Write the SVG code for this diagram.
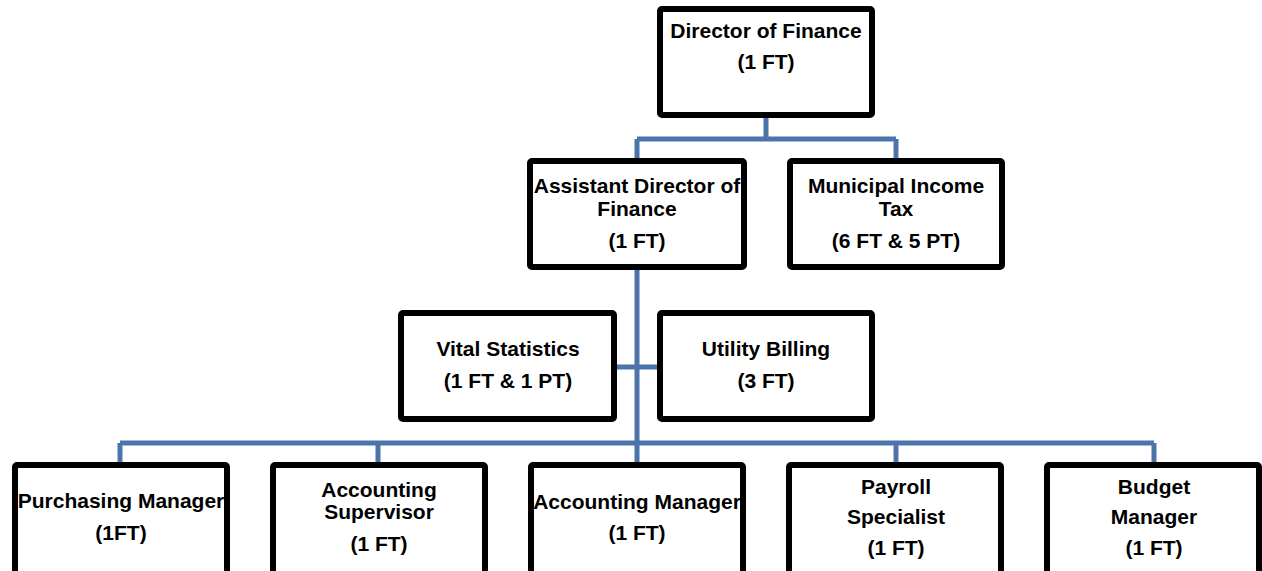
<svg xmlns="http://www.w3.org/2000/svg" width="1262" height="571" viewBox="0 0 1262 571">
<style>
.box{fill:#fff;stroke:#000;stroke-width:6;stroke-linejoin:round}
.ln{fill:none;stroke:#4A74AA;stroke-width:5}
text{font-family:"Liberation Sans",Arial,sans-serif;font-weight:bold;font-size:21px;fill:#000;text-anchor:middle}
</style>
<rect width="1262" height="571" fill="#fff"/>
<g id="connectors">
<path class="ln" d="M766 118V139M637 139H896M637 139V158M896 139V158"/>
<path class="ln" d="M637 270V443M617 367H657"/>
<path class="ln" d="M120 443H1154M120 443V462M378 443V462M637 443V462M896 443V462M1154 443V462"/>
</g>
<g id="director">
<rect class="box" x="660" y="9" width="212" height="106" rx="2"/>
<text x="766" y="38">Director of Finance</text>
<text x="766" y="69">(1 FT)</text>
</g>
<g id="assistant-director">
<rect class="box" x="530" y="161" width="214" height="106" rx="2"/>
<text x="637" y="193">Assistant Director of</text>
<text x="637" y="216">Finance</text>
<text x="637" y="248">(1 FT)</text>
</g>
<g id="municipal-income-tax">
<rect class="box" x="790" y="161" width="212" height="106" rx="2"/>
<text x="896" y="193">Municipal Income</text>
<text x="896" y="216">Tax</text>
<text x="896" y="248">(6 FT &amp; 5 PT)</text>
</g>
<g id="vital-statistics">
<rect class="box" x="401" y="313" width="213" height="106" rx="2"/>
<text x="508" y="356">Vital Statistics</text>
<text x="508" y="388">(1 FT &amp; 1 PT)</text>
</g>
<g id="utility-billing">
<rect class="box" x="660" y="313" width="212" height="106" rx="2"/>
<text x="766" y="356">Utility Billing</text>
<text x="766" y="388">(3 FT)</text>
</g>
<g id="purchasing-manager">
<rect class="box" x="15" y="465" width="212" height="120" rx="2"/>
<text x="121" y="508">Purchasing Manager</text>
<text x="121" y="540">(1FT)</text>
</g>
<g id="accounting-supervisor">
<rect class="box" x="273" y="465" width="212" height="120" rx="2"/>
<text x="379" y="497">Accounting</text>
<text x="379" y="519">Supervisor</text>
<text x="379" y="551">(1 FT)</text>
</g>
<g id="accounting-manager">
<rect class="box" x="531" y="465" width="212" height="120" rx="2"/>
<text x="637" y="509">Accounting Manager</text>
<text x="637" y="540">(1 FT)</text>
</g>
<g id="payroll-specialist">
<rect class="box" x="789" y="465" width="212" height="120" rx="2"/>
<text x="896" y="494">Payroll</text>
<text x="896" y="524">Specialist</text>
<text x="896" y="555">(1 FT)</text>
</g>
<g id="budget-manager">
<rect class="box" x="1047" y="465" width="212" height="120" rx="2"/>
<text x="1154" y="494">Budget</text>
<text x="1154" y="524">Manager</text>
<text x="1154" y="555">(1 FT)</text>
</g>
</svg>
